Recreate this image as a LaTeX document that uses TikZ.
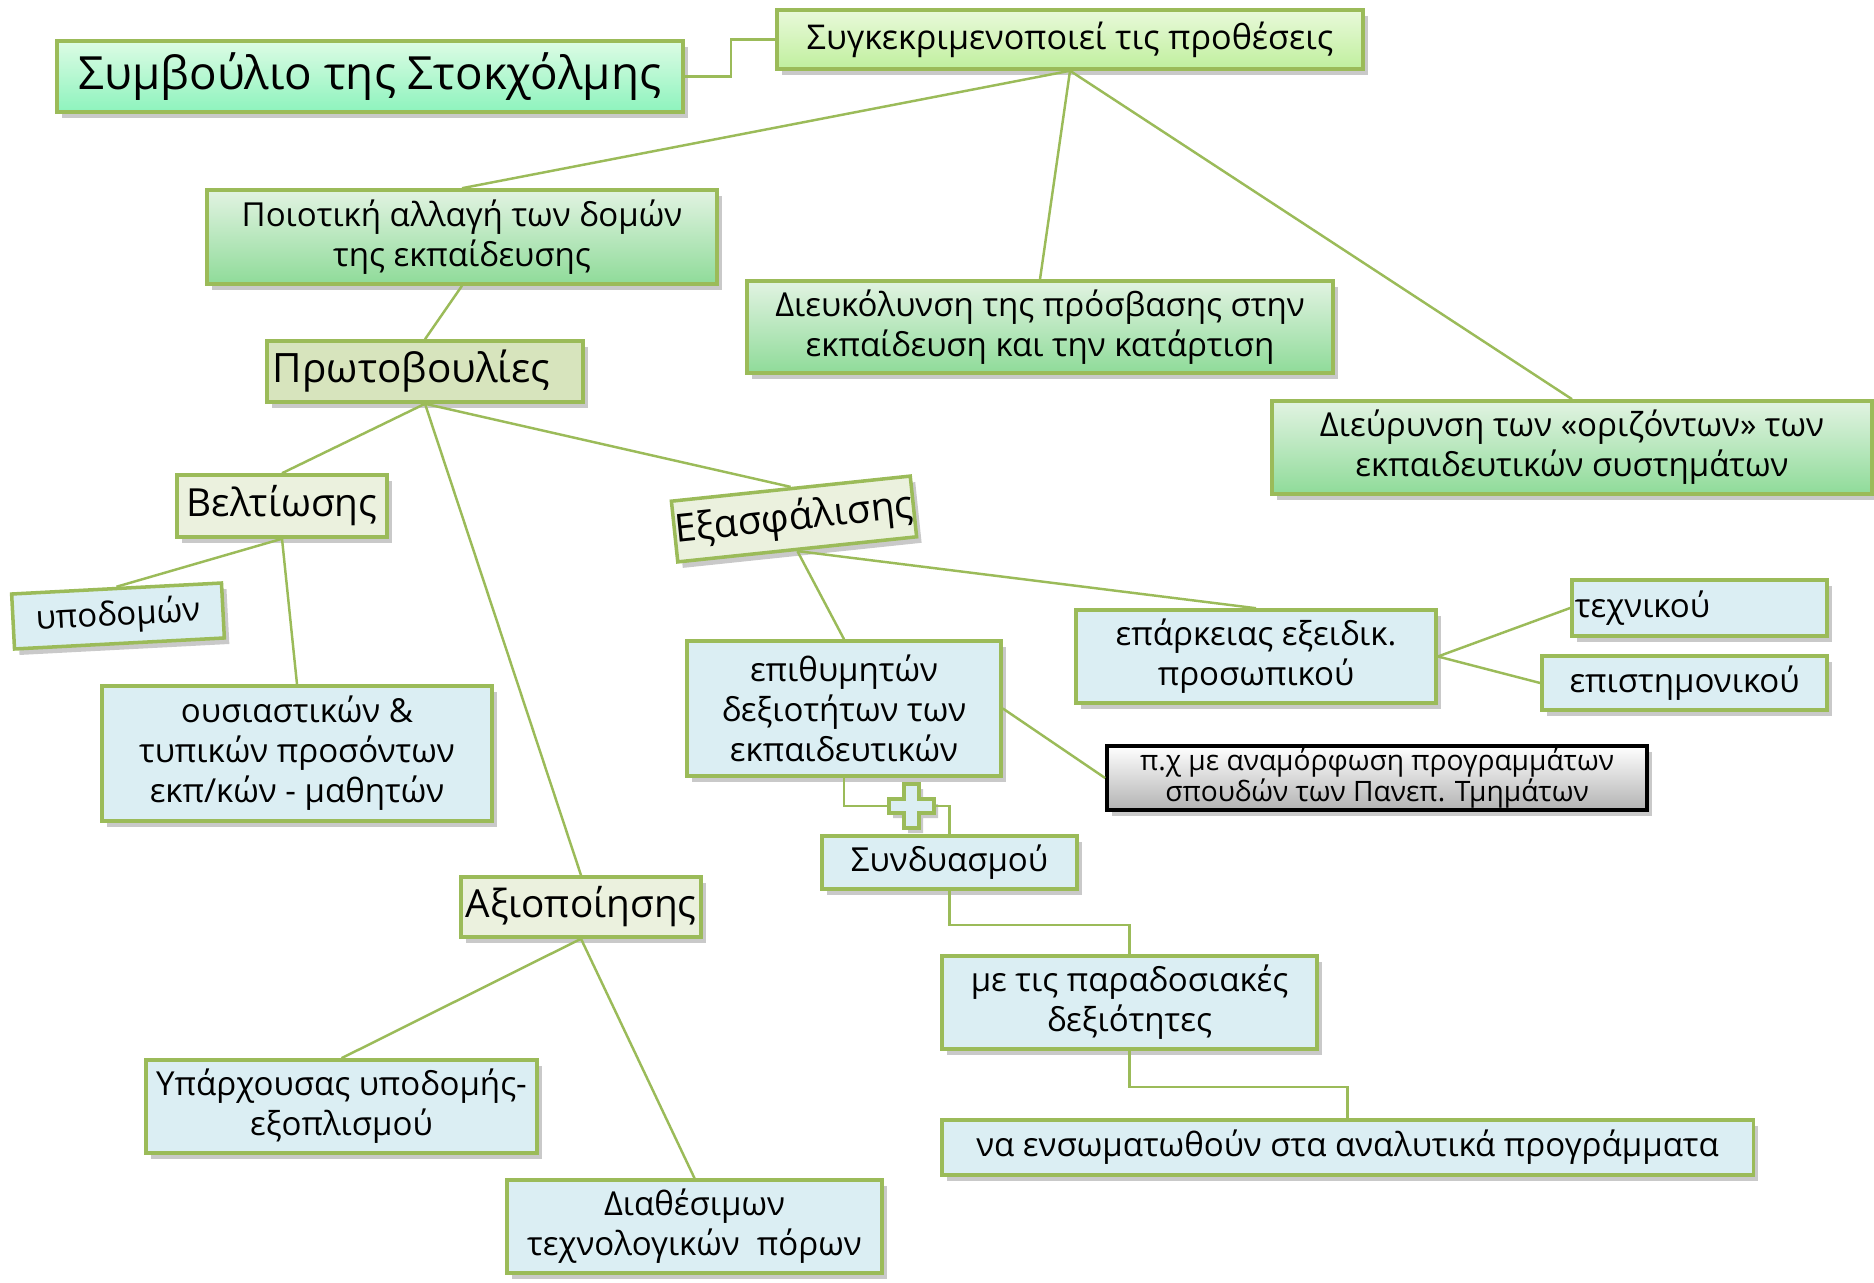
\documentclass[tikz,border=0pt]{standalone}
\usepackage{fontspec}
\setmainfont{Open Sans}
\usetikzlibrary{shadows}
\definecolor{kmline}{HTML}{9BBB59}
\definecolor{kmmintA}{HTML}{DDFCE5}
\definecolor{kmmintB}{HTML}{8DF3BD}
\definecolor{kmlimeA}{HTML}{E9F9DA}
\definecolor{kmlimeB}{HTML}{C0EF9E}
\definecolor{kmgreenA}{HTML}{E2F3E2}
\definecolor{kmgreenB}{HTML}{8FDB99}
\definecolor{kmolive}{HTML}{D7E4BD}
\definecolor{kmpale}{HTML}{EBF1DE}
\definecolor{kmblue}{HTML}{DBEEF3}

\begin{document}
\begin{tikzpicture}[x=0.01cm, y=-0.01cm,
	box/.style={draw=kmline, line width=1pt, align=center, inner sep=0pt,
		font=\fontsize{9.4}{11.4}\selectfont,
		drop shadow={shadow xshift=0.5mm, shadow yshift=-0.6mm, opacity=0.3, fill=black!70}},
	titlebox/.style={box, top color=kmmintA, bottom color=kmmintB, font=\fontsize{13}{15}\selectfont},
	aimbox/.style={box, top color=kmlimeA, bottom color=kmlimeB, font=\fontsize{9.7}{11}\selectfont},
	goalbox/.style={box, top color=kmgreenA, bottom color=kmgreenB},
	rootbox/.style={box, fill=kmolive, font=\fontsize{11.5}{14}\selectfont},
	actbox/.style={box, fill=kmpale, font=\fontsize{11}{13}\selectfont},
	leafbox/.style={box, fill=kmblue},
	notebox/.style={box, draw=black, top color=white, bottom color=black!30, font=\fontsize{8}{8.9}\selectfont},
	link/.style={draw=kmline, line width=0.7pt}
	]
			\useasboundingbox (0,0) rectangle (1874,1283);
			% Specify the positions of the boxes:
			\coordinate (P1) at (370, 76.5);
			\coordinate (P2) at (1070, 39.5);
			\coordinate (P3) at (462, 237);
			\coordinate (P4) at (1040, 327);
			\coordinate (P5) at (1572, 447.5);
			\coordinate (P6) at (425, 371.5);
			\coordinate (P7) at (282, 506);
			\coordinate (P8) at (794, 519);
			\coordinate (P9) at (581, 907);
			\coordinate (P10) at (118, 616);
			\coordinate (P11) at (297, 753.5);
			\coordinate (P12) at (341.5, 1106.5);
			\coordinate (P13) at (694.5, 1226.5);
			\coordinate (P14) at (844, 708.5);
			\coordinate (P15) at (1256, 656.5);
			\coordinate (P16) at (1699.5, 608);
			\coordinate (P17) at (1684.5, 683);
			\coordinate (P18) at (1377, 778);
			\coordinate (P19) at (949.5, 862.5);
			\coordinate (P20) at (1129.5, 1002.5);
			\coordinate (P21) at (1347.5, 1147.5);
			% Draw the boxes with their texts:
			\node[titlebox, minimum width=6.26cm, minimum height=0.71cm] (stockholm) at (P1) {Συμβούλιο της Στοκχόλμης};
			\node[aimbox, minimum width=5.86cm, minimum height=0.59cm] (protheseis) at (P2) {Συγκεκριμενοποιεί τις προθέσεις};
			\node[goalbox, minimum width=5.10cm, minimum height=0.94cm] (domes) at (P3) {Ποιοτική αλλαγή των δομών\\της εκπαίδευσης};
			\node[goalbox, minimum width=5.86cm, minimum height=0.92cm] (prosvasi) at (P4) {Διευκόλυνση της πρόσβασης στην\\εκπαίδευση και την κατάρτιση};
			\node[goalbox, minimum width=6.00cm, minimum height=0.93cm] (orizontes) at (P5) {Διεύρυνση των «οριζόντων» των\\εκπαιδευτικών συστημάτων};
			\node[rootbox, text width=3.04cm, inner xsep=0.06cm, align=left, minimum height=0.61cm] (protovoulies) at (P6) {Πρωτοβουλίες};
			\node[actbox, minimum width=2.10cm, minimum height=0.62cm] (veltiosi) at (P7) {Βελτίωσης};
			\node[actbox, minimum width=2.40cm, minimum height=0.61cm, rotate=6] (exasfalisi) at (P8) {Εξασφάλισης};
			\node[actbox, minimum width=2.40cm, minimum height=0.60cm] (axiopoiisi) at (P9) {Αξιοποίησης};
			\node[leafbox, minimum width=2.10cm, minimum height=0.55cm, rotate=3] (ypodomes) at (P10) {υποδομών};
			\node[leafbox, minimum width=3.90cm, minimum height=1.35cm] (prosonta) at (P11) {ουσιαστικών \&\\τυπικών προσόντων\\εκπ/κών - μαθητών};
			\node[leafbox, minimum width=3.91cm, minimum height=0.93cm] (exoplismos) at (P12) {Υπάρχουσας υποδομής-\\εξοπλισμού};
			\node[leafbox, minimum width=3.75cm, minimum height=0.93cm] (poroi) at (P13) {Διαθέσιμων\\τεχνολογικών~ πόρων};
			\node[leafbox, minimum width=3.14cm, minimum height=1.35cm] (dexiotites) at (P14) {επιθυμητών\\δεξιοτήτων των\\εκπαιδευτικών};
			\node[leafbox, minimum width=3.60cm, minimum height=0.93cm] (prosopiko) at (P15) {επάρκειας εξειδικ.\\προσωπικού};
			\node[leafbox, text width=2.49cm, inner xsep=0.03cm, align=left, minimum height=0.56cm] (texniko) at (P16) {τεχνικού};
			\node[leafbox, minimum width=2.85cm, minimum height=0.54cm] (epistimoniko) at (P17) {επιστημονικού};
			\node[notebox, minimum width=5.40cm, minimum height=0.64cm] (paradeigma) at (P18) {π.χ με αναμόρφωση προγραμμάτων\\σπουδών των Πανεπ. Τμημάτων};
			\node[leafbox, minimum width=2.55cm, minimum height=0.53cm] (syndyasmos) at (P19) {Συνδυασμού};
			\node[leafbox, minimum width=3.75cm, minimum height=0.93cm] (paradosiakes) at (P20) {με τις παραδοσιακές\\δεξιότητες};
			\node[leafbox, minimum width=8.11cm, minimum height=0.55cm] (programmata) at (P21) {να ενσωματωθούν στα αναλυτικά προγράμματα};
			% Draw the plus sign between the two boxes:
			\coordinate (plusL) at (889, 806);
			\coordinate (plusR) at (934, 806);
			\filldraw[draw=kmline, fill=kmblue, line width=1pt, drop shadow={shadow xshift=0.4mm, shadow yshift=-0.5mm, opacity=0.3, fill=black!70}]
				(889,799) -- (904,799) -- (904,784) -- (919,784) -- (919,799) -- (934,799) -- (934,813)
				-- (919,813) -- (919,828) -- (904,828) -- (904,813) -- (889,813) -- cycle;
			% Draw the connectors:
			\draw[link] (stockholm.east) -- ++(46,0) |- (protheseis.west);
			\draw[link] (protheseis.south) -- (domes.north);
			\draw[link] (protheseis.south) -- (prosvasi.north);
			\draw[link] (protheseis.south) -- (orizontes.north);
			\draw[link] (domes.south) -- (protovoulies.north);
			\draw[link] (protovoulies.south) -- (veltiosi.north);
			\draw[link] (protovoulies.south) -- (exasfalisi.north);
			\draw[link] (protovoulies.south) -- (axiopoiisi.north);
			\draw[link] (veltiosi.south) -- (ypodomes.north);
			\draw[link] (veltiosi.south) -- (prosonta.north);
			\draw[link] (axiopoiisi.south) -- (exoplismos.north);
			\draw[link] (axiopoiisi.south) -- (poroi.north);
			\draw[link] (exasfalisi.south) -- (dexiotites.north);
			\draw[link] (exasfalisi.south) -- (prosopiko.north);
			\draw[link] (prosopiko.east) -- (texniko.west);
			\draw[link] (prosopiko.east) -- (epistimoniko.west);
			\draw[link] (dexiotites.east) -- (paradeigma.west);
			\draw[link] (dexiotites.south) |- (plusL);
			\draw[link] (plusR) -| (syndyasmos.north);
			\draw[link] (syndyasmos.south) -- ++(0,34) -| (paradosiakes.north);
			\draw[link] (paradosiakes.south) -- ++(0,36) -| (programmata.north);
		\end{tikzpicture}
\end{document}
